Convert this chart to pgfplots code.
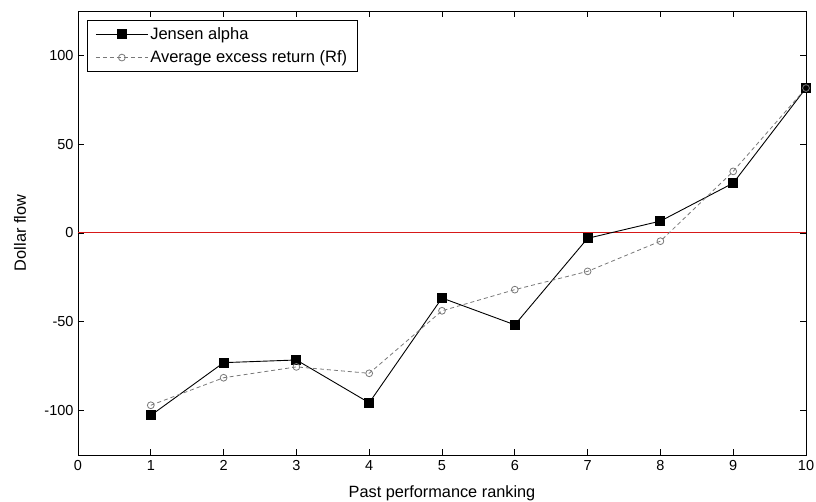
\documentclass[border=0pt]{standalone}
\usepackage{pgfplots}
\pgfplotsset{compat=1.18}
\usepackage{fontspec}
\setmainfont{Liberation Sans}
\definecolor{mgrey}{RGB}{120,120,120}
\definecolor{mred}{RGB}{215,25,25}
\begin{document}
\begin{tikzpicture}
\begin{axis}[
  name=ax,
  scale only axis,
  width=728bp, height=444bp,
  xmin=0, xmax=10, ymin=-125, ymax=125,
  xtick={0,1,...,10},
  ytick={-100,-50,0,50,100},
  tick align=inside,
  xtick pos=both, ytick pos=both,
  major tick length=6bp,
  axis line style={line width=0.9bp},
  tick style={line width=0.8bp, black},
  /pgf/number format/assume math mode=true,
  ticklabel style={font=\fontsize{14.5bp}{17bp}\selectfont},
  xticklabel style={yshift=-2bp},
  yticklabel style={xshift=-1bp},
  xlabel={Past performance ranking},
  ylabel={Dollar flow},
  label style={font=\fontsize{16.3bp}{19bp}\selectfont},
  xlabel style={at={(axis description cs:0.5,0)}, anchor=center, yshift=-38bp},
  ylabel style={at={(axis description cs:0,0.5)}, anchor=center, yshift=58bp},
  legend cell align=left,
  legend style={at={(rel axis cs:0.0124,0.9797)}, anchor=north west,
    draw=black, line width=0.8bp, font=\fontsize{16.5bp}{19bp}\selectfont,
    row sep=6bp, inner xsep=8bp, inner ysep=5bp},
  legend image code/.code={\draw[mark repeat=2,mark phase=2,#1] plot coordinates {(0bp,0bp) (26bp,0bp) (52bp,0bp)};},
]
\addplot[draw=mred, line width=1bp, mark=none, forget plot] coordinates {(0,0) (10,0)};
\addplot[black, line width=0.9bp, mark=square*, mark size=4.5bp, mark options={solid}] coordinates {
(1,-102.7) (2,-73.0) (3,-71.5) (4,-95.6) (5,-36.6) (6,-51.7) (7,-3.0) (8,6.7) (9,28.1) (10,81.6)};
\addlegendentry{Jensen alpha}
\addplot[mgrey, line width=0.8bp, dash pattern=on 4bp off 3bp, mark=o, mark size=3.4bp, mark options={solid, line width=0.8bp}] coordinates {
(1,-97.0) (2,-81.5) (3,-75.4) (4,-79.0) (5,-43.8) (6,-31.9) (7,-21.6) (8,-4.6) (9,34.7) (10,81.6)};
\addlegendentry{Average excess return (Rf)}
\end{axis}
\pgfresetboundingbox
\useasboundingbox ([xshift=-78bp,yshift=-47bp]ax.south west) rectangle ([xshift=10bp,yshift=11bp]ax.north east);
\end{tikzpicture}
\end{document}
